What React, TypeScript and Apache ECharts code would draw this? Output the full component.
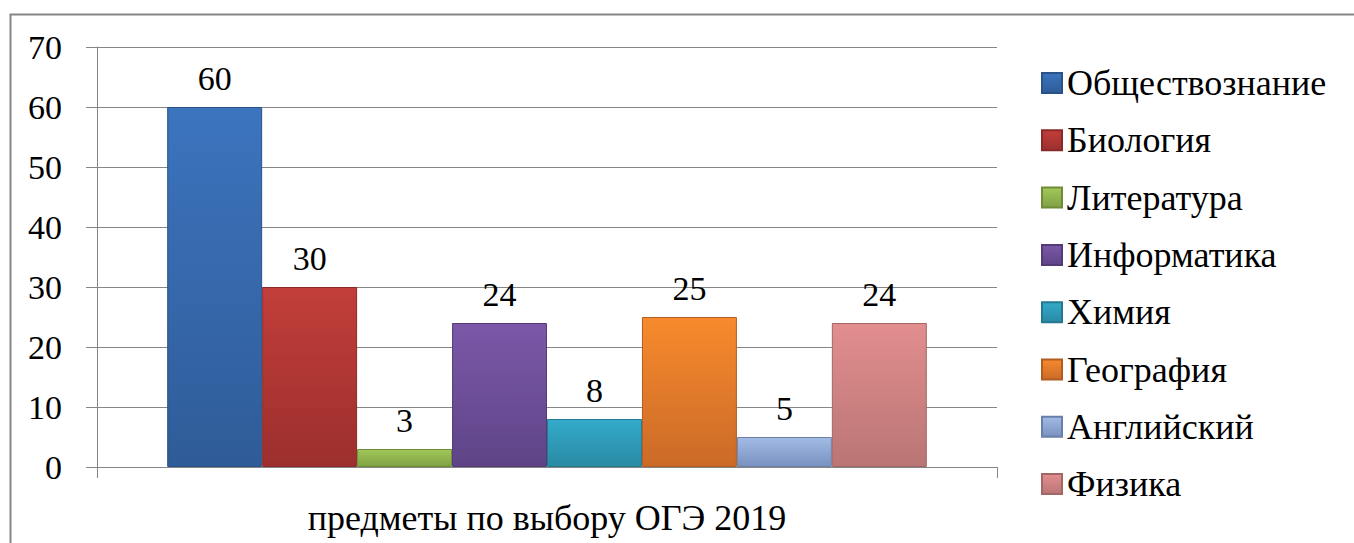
import React, { useEffect, useRef } from "react";
import * as echarts from "echarts";

const categories = ["предметы по выбору ОГЭ 2019"];
const seriesNames = [
  "Обществознание",
  "Биология",
  "Литература",
  "Информатика",
  "Химия",
  "География",
  "Английский",
  "Физика",
];
const seriesValues = [60, 30, 3, 24, 8, 25, 5, 24];
const topColors = ["#3C74BE", "#C23E3A", "#A2C85A", "#7C58A8", "#33AACA", "#F78A2C", "#A3BCE6", "#E28E8E"];
const bottomColors = ["#2F5C98", "#9C2F2D", "#7FA042", "#5E4487", "#2A8AA4", "#CB6A28", "#7891BF", "#BA7575"];
const borderColors = ["#2A5287", "#8A2A28", "#6E8C38", "#523B76", "#247890", "#B05C22", "#6A80A8", "#A26666"];

const FONT = "Liberation Serif";

export default function App() {
  const ref = useRef<HTMLDivElement>(null);
  useEffect(() => {
    const chart = echarts.init(ref.current!, undefined, { renderer: "svg" });
    const series = seriesNames.map((name, i) => ({
      name,
      type: "bar",
      data: [seriesValues[i]],
      barGap: "0%",
      barCategoryGap: "15.6%",
      itemStyle: {
        color: new echarts.graphic.LinearGradient(0, 0, 0, 1, [
          { offset: 0, color: topColors[i] },
          { offset: 1, color: bottomColors[i] },
        ]),
        borderColor: borderColors[i],
        borderWidth: 1,
      },
      label: {
        show: true,
        position: "top",
        distance: 12,
        color: "#000",
        fontFamily: FONT,
        fontSize: 34,
      },
    }));
    chart.setOption({
      animation: false,
      backgroundColor: "#fff",
      textStyle: { fontFamily: FONT },
      graphic: [
        {
          type: "rect",
          shape: { x: 10.5, y: 14.5, width: 1400, height: 600 },
          style: { fill: "none", stroke: "#868686", lineWidth: 2 },
          silent: true,
        },
      ],
      grid: { left: 97, right: 357, top: 47, bottom: 76 },
      legend: {
        orient: "vertical",
        left: 1036,
        top: 60,
        icon: "rect",
        itemWidth: 20,
        itemHeight: 20,
        itemGap: 21.3,
        data: seriesNames,
        textStyle: {
          color: "#000",
          fontFamily: FONT,
          fontSize: 36,
          lineHeight: 33,
        },
      },
      xAxis: {
        type: "category",
        data: categories,
        axisLine: { show: true, lineStyle: { color: "#868686", width: 1 } },
        axisTick: { show: true, length: 11, lineStyle: { color: "#868686" } },
        axisLabel: {
          color: "#000",
          fontFamily: FONT,
          fontSize: 36,
          margin: 33,
        },
      },
      yAxis: {
        type: "value",
        min: 0,
        max: 70,
        interval: 10,
        axisLine: { show: true, lineStyle: { color: "#868686", width: 1 } },
        axisTick: { show: true, length: 11, lineStyle: { color: "#868686" } },
        splitLine: { show: true, lineStyle: { color: "#868686", width: 1 } },
        axisLabel: {
          color: "#000",
          fontFamily: FONT,
          fontSize: 34,
          margin: 35,
        },
      },
      series,
    });
    return () => chart.dispose();
  }, []);
  return (
    <div
      ref={ref}
      style={{ position: "fixed", left: 0, top: 0, width: 1354, height: 543 }}
    />
  );
}
